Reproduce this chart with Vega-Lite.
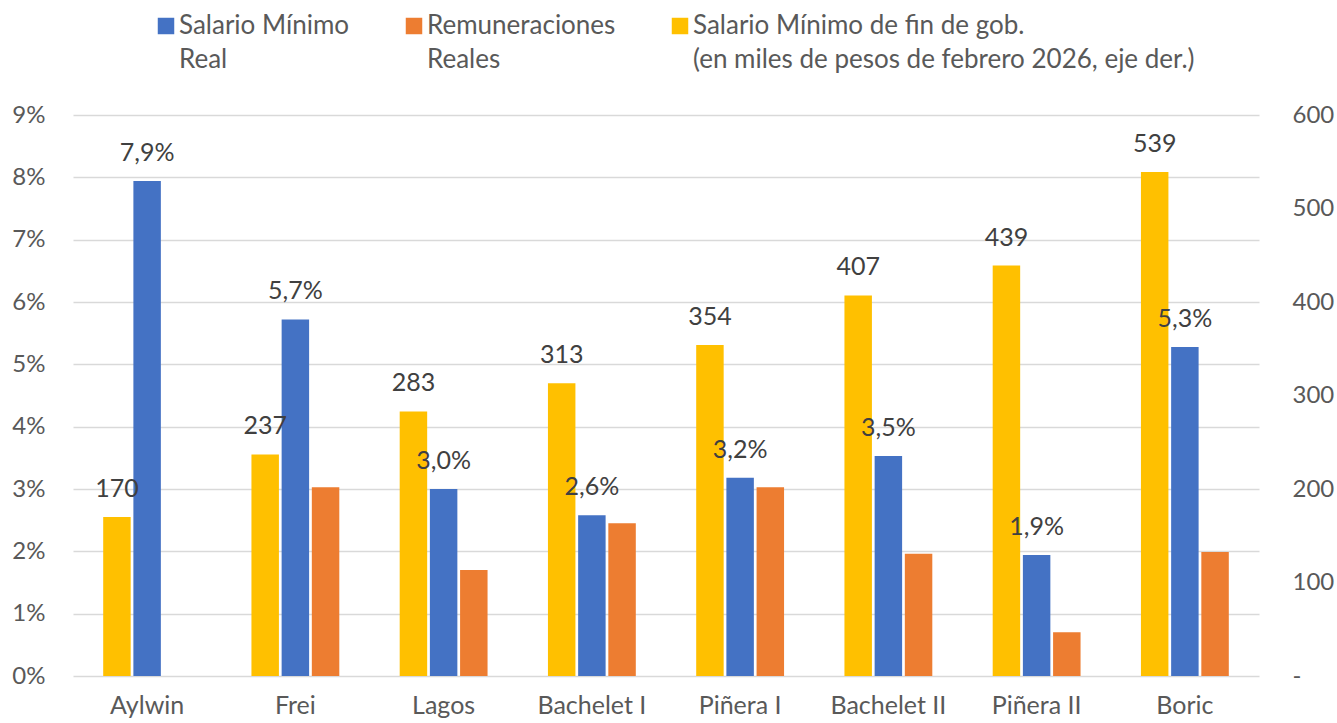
{
  "$schema": "https://vega.github.io/schema/vega-lite/v6.json",
  "width": 1186,
  "height": 561,
  "autosize": {"type": "none"},
  "padding": {"left": 73, "top": 115, "right": 78, "bottom": 47},
  "background": "white",
  "config": {
    "font": "Lato",
    "locale": {"number": {"decimal": ",", "thousands": ".", "grouping": [3], "currency": ["$", ""]}},
    "view": {"stroke": null},
    "axis": {"labelFont": "Lato", "labelFontSize": 24, "labelColor": "#595959", "domain": false, "ticks": false, "title": null}
  },
  "data": {"values": [
    {"gob": "Aylwin", "serie": "Salario Mínimo de fin de gob.", "valor": 170},
    {"gob": "Aylwin", "serie": "Salario Mínimo Real", "valor": 0.0794},
    {"gob": "Frei", "serie": "Salario Mínimo de fin de gob.", "valor": 237},
    {"gob": "Frei", "serie": "Salario Mínimo Real", "valor": 0.0572},
    {"gob": "Frei", "serie": "Remuneraciones Reales", "valor": 0.0303},
    {"gob": "Lagos", "serie": "Salario Mínimo de fin de gob.", "valor": 283},
    {"gob": "Lagos", "serie": "Salario Mínimo Real", "valor": 0.0300},
    {"gob": "Lagos", "serie": "Remuneraciones Reales", "valor": 0.0170},
    {"gob": "Bachelet I", "serie": "Salario Mínimo de fin de gob.", "valor": 313},
    {"gob": "Bachelet I", "serie": "Salario Mínimo Real", "valor": 0.0258},
    {"gob": "Bachelet I", "serie": "Remuneraciones Reales", "valor": 0.0245},
    {"gob": "Piñera I", "serie": "Salario Mínimo de fin de gob.", "valor": 354},
    {"gob": "Piñera I", "serie": "Salario Mínimo Real", "valor": 0.0318},
    {"gob": "Piñera I", "serie": "Remuneraciones Reales", "valor": 0.0303},
    {"gob": "Bachelet II", "serie": "Salario Mínimo de fin de gob.", "valor": 407},
    {"gob": "Bachelet II", "serie": "Salario Mínimo Real", "valor": 0.0353},
    {"gob": "Bachelet II", "serie": "Remuneraciones Reales", "valor": 0.0196},
    {"gob": "Piñera II", "serie": "Salario Mínimo de fin de gob.", "valor": 439},
    {"gob": "Piñera II", "serie": "Salario Mínimo Real", "valor": 0.0194},
    {"gob": "Piñera II", "serie": "Remuneraciones Reales", "valor": 0.0070},
    {"gob": "Boric", "serie": "Salario Mínimo de fin de gob.", "valor": 539},
    {"gob": "Boric", "serie": "Salario Mínimo Real", "valor": 0.0528},
    {"gob": "Boric", "serie": "Remuneraciones Reales", "valor": 0.0199}
  ]},
  "encoding": {
    "x": {
      "field": "gob", "type": "nominal",
      "sort": ["Aylwin", "Frei", "Lagos", "Bachelet I", "Piñera I", "Bachelet II", "Piñera II", "Boric"],
      "scale": {"paddingInner": 0, "paddingOuter": 0},
      "axis": {"labelAngle": 0, "labelPadding": 17, "labelFontSize": 25, "title": null, "grid": false, "orient": "bottom"}
    },
    "xOffset": {
      "field": "serie", "type": "nominal",
      "scale": {"domain": ["Salario Mínimo de fin de gob.", "Salario Mínimo Real", "Remuneraciones Reales"], "paddingInner": 0.09, "paddingOuter": 1.07}
    }
  },
  "layer": [
    {
      "transform": [{"filter": "datum.serie != 'Salario Mínimo de fin de gob.'"}],
      "mark": {"type": "bar"},
      "encoding": {
        "y": {
          "field": "valor", "type": "quantitative",
          "scale": {"domain": [0, 0.09], "nice": false, "zero": true},
          "axis": {"orient": "left", "format": ".0%", "values": [0, 0.01, 0.02, 0.03, 0.04, 0.05, 0.06, 0.07, 0.08, 0.09], "grid": true, "gridColor": "#d9d9d9", "gridWidth": 1.5, "labelPadding": 28}
        },
        "color": {
          "field": "serie", "type": "nominal",
          "scale": {"domain": ["Salario Mínimo Real", "Remuneraciones Reales", "Salario Mínimo de fin de gob."], "range": ["#4472C4", "#ED7D31", "#FFC000"]},
          "legend": {
            "orient": "none", "legendX": 80, "legendY": -102, "direction": "horizontal", "columns": 3,
            "title": null, "symbolType": "square", "symbolSize": 272, "symbolStrokeWidth": 0,
            "labelFontSize": 26, "labelColor": "#595959", "labelOffset": 0, "columnPadding": 51, "labelLimit": 800, "padding": 0,
            "labelExpr": "datum.value == 'Salario Mínimo Real' ? ['Salario Mínimo', 'Real'] : datum.value == 'Remuneraciones Reales' ? ['Remuneraciones', 'Reales'] : ['Salario Mínimo de fin de gob.', '(en miles de pesos de febrero 2026, eje der.)']",
            "encode": {"labels": {"update": {"lineHeight": {"value": 34}}}}
          }
        }
      }
    },
    {
      "transform": [{"filter": "datum.serie == 'Salario Mínimo de fin de gob.'"}],
      "mark": {"type": "bar"},
      "encoding": {
        "y": {
          "field": "valor", "type": "quantitative",
          "scale": {"domain": [0, 600], "nice": false, "zero": true},
          "axis": {"orient": "right", "values": [0, 100, 200, 300, 400, 500, 600], "grid": false, "labelPadding": 33, "labelExpr": "datum.value == 0 ? '-' : datum.label"}
        },
        "color": {
          "field": "serie", "type": "nominal",
          "scale": {"domain": ["Salario Mínimo Real", "Remuneraciones Reales", "Salario Mínimo de fin de gob."], "range": ["#4472C4", "#ED7D31", "#FFC000"]}
        }
      }
    },
    {
      "transform": [{"filter": "datum.serie == 'Salario Mínimo Real'"}],
      "mark": {"type": "text", "baseline": "alphabetic", "dy": -20, "fontSize": 25, "color": "#404040"},
      "encoding": {
        "y": {"field": "valor", "type": "quantitative", "scale": {"domain": [0, 0.09], "nice": false, "zero": true}, "axis": null},
        "text": {"field": "valor", "type": "quantitative", "format": ".1%"}
      }
    },
    {
      "transform": [{"filter": "datum.serie == 'Salario Mínimo de fin de gob.'"}],
      "mark": {"type": "text", "baseline": "alphabetic", "dy": -20, "fontSize": 25, "color": "#404040"},
      "encoding": {
        "y": {"field": "valor", "type": "quantitative", "scale": {"domain": [0, 600], "nice": false, "zero": true}, "axis": null},
        "text": {"field": "valor", "type": "quantitative", "format": "d"}
      }
    }
  ],
  "resolve": {"scale": {"y": "independent"}}
}
